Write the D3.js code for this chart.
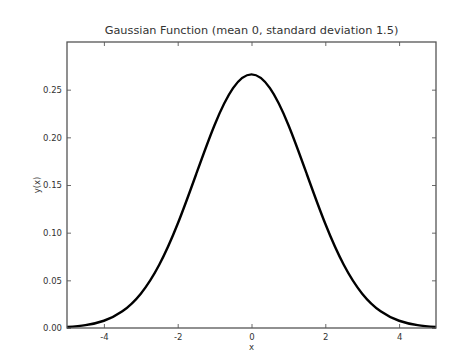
<!DOCTYPE html>
<html lang="en">
<head>
  <meta charset="UTF-8">
  <title>Gaussian Function</title>
  <script src="https://d3js.org/d3.v7.min.js"></script>
  <style>
    body { margin: 0; background: #fff; }
    text { font-family: "DejaVu Sans", sans-serif; fill: #333; }
    .tick-label { font-size: 8.5px; }
    .title { font-size: 11.3px; }
  </style>
</head>
<body>
  <svg width="473" height="363"></svg>

  <script>
    // Values
    const xs = [-5, -4.5, -4, -3.5, -3, -2.5, -2, -1.5, -1, -0.5, 0,
                0.5, 1, 1.5, 2, 2.5, 3, 3.5, 4, 4.5, 5];
    const ys = [0.0010, 0.0030, 0.0076, 0.0175, 0.0360, 0.0663, 0.1093, 0.1613, 0.2130, 0.2516, 0.2660,
                0.2516, 0.2130, 0.1613, 0.1093, 0.0663, 0.0360, 0.0175, 0.0076, 0.0030, 0.0010];
    const xTicks = [-4, -2, 0, 2, 4];
    const yTicks = [0.00, 0.05, 0.10, 0.15, 0.20, 0.25];

    const margin = { top: 42, right: 37, bottom: 35, left: 67 },
          width = 473 - margin.left - margin.right,
          height = 363 - margin.top - margin.bottom;

    const svg = d3.select("svg")
      .append("g")
      .attr("transform", `translate(${margin.left},${margin.top})`);

    const x = d3.scaleLinear().domain([-5, 5]).range([0, width]);
    const y = d3.scaleLinear().domain([0, 0.3]).range([height, 0]);

    // inward ticks on all four sides
    const tickLen = 4;
    const tickStyle = g => {
      g.select(".domain").remove();
      g.selectAll(".tick line").attr("stroke", "#444").attr("stroke-width", 0.8);
    };

    svg.append("g")
      .attr("transform", `translate(0,${height})`)
      .call(d3.axisBottom(x).tickValues(xTicks).tickSize(-tickLen).tickPadding(6).tickFormat(d => String(d)))
      .call(tickStyle)
      .selectAll("text").attr("class", "tick-label").attr("font-size", null).attr("font-family", null);

    svg.append("g")
      .call(d3.axisTop(x).tickValues(xTicks).tickSize(-tickLen).tickFormat(""))
      .call(tickStyle);

    svg.append("g")
      .call(d3.axisLeft(y).tickValues(yTicks).tickSize(-tickLen).tickPadding(5).tickFormat(d => d.toFixed(2)))
      .call(tickStyle)
      .selectAll("text").attr("class", "tick-label").attr("font-size", null).attr("font-family", null);

    svg.append("g")
      .attr("transform", `translate(${width},0)`)
      .call(d3.axisRight(y).tickValues(yTicks).tickSize(-tickLen).tickFormat(""))
      .call(tickStyle);

    // curve
    const line = d3.line()
      .x((d, i) => x(xs[i]))
      .y(d => y(d))
      .curve(d3.curveNatural);

    svg.append("path")
      .datum(ys)
      .attr("fill", "none")
      .attr("stroke", "#000")
      .attr("stroke-width", 2.4)
      .attr("d", line);

    // frame
    svg.append("rect")
      .attr("width", width)
      .attr("height", height)
      .attr("fill", "none")
      .attr("stroke", "#555")
      .attr("stroke-width", 1.3);

    // labels
    svg.append("text")
      .attr("class", "title")
      .attr("x", width / 2)
      .attr("y", -8)
      .attr("text-anchor", "middle")
      .text("Gaussian Function (mean 0, standard deviation 1.5)");

    svg.append("text")
      .attr("class", "tick-label")
      .attr("x", width / 2)
      .attr("y", height + 22)
      .attr("text-anchor", "middle")
      .text("x");

    svg.append("text")
      .attr("class", "tick-label")
      .attr("transform", `translate(-27,${height / 2}) rotate(-90)`)
      .attr("text-anchor", "middle")
      .text("y(x)");
  </script>
</body>
</html>
